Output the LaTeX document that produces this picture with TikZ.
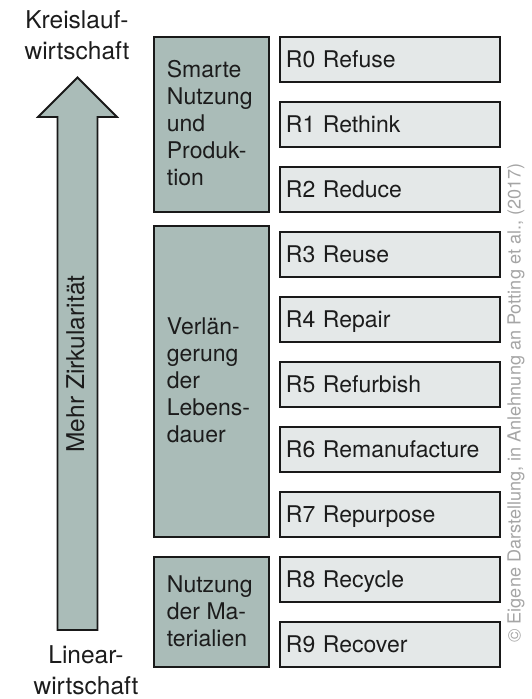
\documentclass[tikz,border=0pt]{standalone}
\usepackage{fontspec}
\setmainfont{TeX Gyre Heros}
\definecolor{grp}{RGB}{170,188,184}
\definecolor{rfill}{RGB}{228,232,232}
\definecolor{txt}{RGB}{28,28,28}
\definecolor{copyc}{RGB}{165,165,165}
\begin{document}
\begin{tikzpicture}[x=1pt,y=-1pt,line width=1.8pt,
  grpbox/.style={draw=black!90,fill=grp,minimum width=115pt,anchor=north west,inner sep=0pt},
  rbox/.style={draw=black!90,fill=rfill,minimum width=220pt,minimum height=45pt,anchor=north west,
    inner xsep=6pt,inner ysep=0pt,text width=208pt,align=left,text height=16.5pt,text depth=0pt,
    font=\fontsize{23}{27}\selectfont,text=txt},
  grptext/.style={anchor=west,align=left,inner sep=0pt,font=\fontsize{23}{27}\selectfont,text=txt},
  endlabel/.style={anchor=north,align=center,inner sep=0pt,font=\fontsize{24.5}{31}\selectfont,text=txt}]
\useasboundingbox (0,0) rectangle (531,699);
% arrow
\draw[draw=black!90,fill=grp,line join=miter] (57.5,630) -- (57.5,117) -- (38,117) -- (77.5,77.5) -- (117,117) -- (97.5,117) -- (97.5,630) -- cycle;
\node[rotate=90,inner sep=0pt,font=\fontsize{24.5}{29}\selectfont,text=txt] (mz) at (75.5,364) {Mehr Zirkularität};
\node[endlabel] (top) at (77,10) {Kreislauf-\\wirtschaft};
\node[endlabel] (bot) at (86,645) {Linear-\\wirtschaft};
% groups
\node[grpbox,minimum height=175pt] (g1) at (153,36) {};
\node[grpbox,minimum height=311pt] (g2) at (153,225) {};
\node[grpbox,minimum height=110pt] (g3) at (153,556) {};
\node[grptext] (g1t) at (166,123.5) {Smarte\\Nutzung\\und\\Produk-\\tion};
\node[grptext] (g2t) at (166,380.5) {Verlän-\\gerung\\der\\Lebens-\\dauer};
\node[grptext] (g3t) at (166,611) {Nutzung\\der Ma-\\terialien};
% R boxes
\node[rbox] (r0) at (279,36) {R0 Refuse};
\node[rbox] (r1) at (279,101) {R1 Rethink};
\node[rbox] (r2) at (279,166) {R2 Reduce};
\node[rbox] (r3) at (279,231) {R3 Reuse};
\node[rbox] (r4) at (279,296) {R4 Repair};
\node[rbox] (r5) at (279,361) {R5 Refurbish};
\node[rbox] (r6) at (279,426) {R6 Remanufacture};
\node[rbox] (r7) at (279,491) {R7 Repurpose};
\node[rbox] (r8) at (279,556) {R8 Recycle};
\node[rbox] (r9) at (279,621) {R9 Recover};
% source
\node[rotate=90,inner sep=0pt,font=\fontsize{18.1}{20}\selectfont,text=copyc] (src) at (516,403) {© Eigene Darstellung, in Anlehnung an Potting et al., (2017)};
\end{tikzpicture}
\end{document}
